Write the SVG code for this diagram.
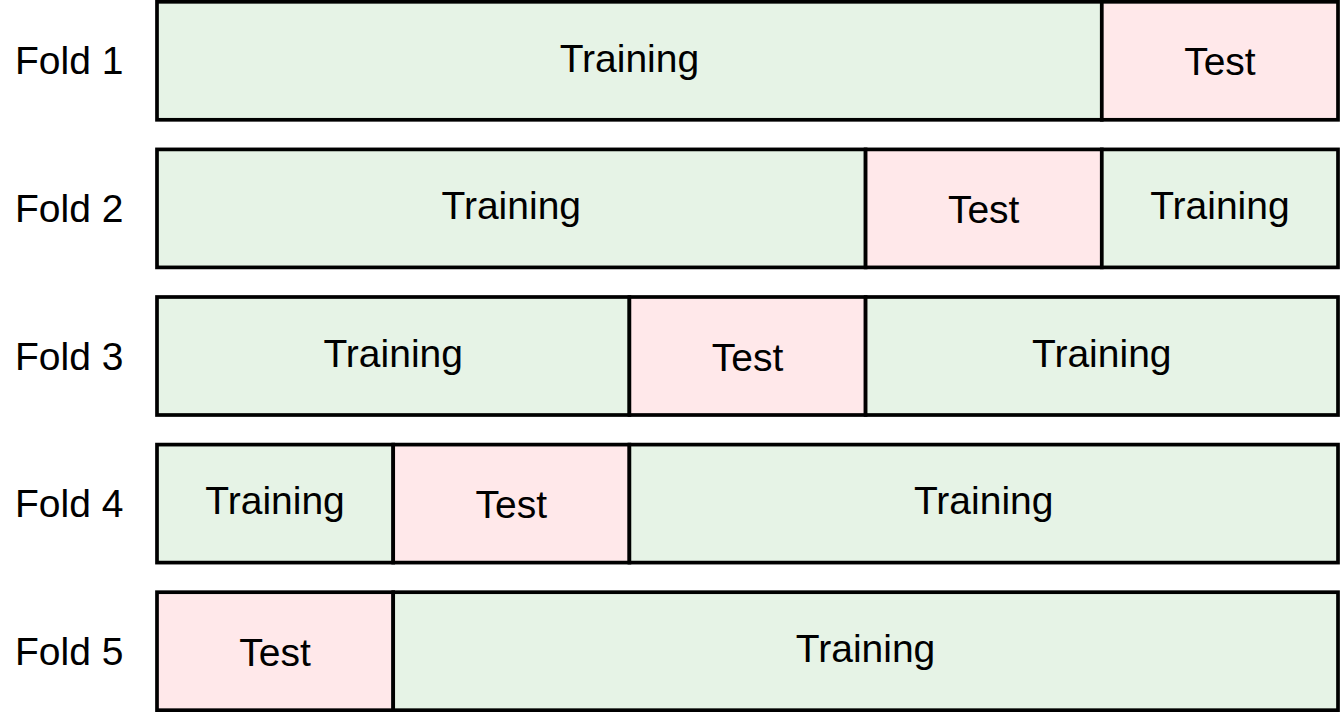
<svg xmlns="http://www.w3.org/2000/svg" width="1340" height="712" viewBox="0 0 1340 712">
<style>
.tr{fill:#e6f3e6;stroke:#000;stroke-width:3.7}
.te{fill:#ffe8ea;stroke:#000;stroke-width:3.7}
text{font-family:"Liberation Sans",Arial,sans-serif;font-size:39px;fill:#000}
.c{text-anchor:middle}
</style>
<rect width="1340" height="712" fill="#fff"/>
<g id="fold1">
<rect class="tr" x="157" y="1.8" width="944.8" height="118"/>
<rect class="te" x="1101.8" y="1.8" width="236.2" height="118"/>
<text x="15" y="74.3">Fold 1</text>
<text class="c" x="629.4" y="71.5">Training</text>
<text class="c" x="1219.9" y="75.3">Test</text>
</g>
<g id="fold2">
<rect class="tr" x="157" y="149.4" width="708.6" height="118"/>
<rect class="te" x="865.6" y="149.4" width="236.2" height="118"/>
<rect class="tr" x="1101.8" y="149.4" width="236.2" height="118"/>
<text x="15" y="221.9">Fold 2</text>
<text class="c" x="511.3" y="219.1">Training</text>
<text class="c" x="983.7" y="222.9">Test</text>
<text class="c" x="1219.9" y="219.1">Training</text>
</g>
<g id="fold3">
<rect class="tr" x="157" y="297" width="472.4" height="118"/>
<rect class="te" x="629.4" y="297" width="236.2" height="118"/>
<rect class="tr" x="865.6" y="297" width="472.4" height="118"/>
<text x="15" y="369.5">Fold 3</text>
<text class="c" x="393.2" y="366.7">Training</text>
<text class="c" x="747.5" y="370.5">Test</text>
<text class="c" x="1101.8" y="366.7">Training</text>
</g>
<g id="fold4">
<rect class="tr" x="157" y="444.6" width="236.2" height="118"/>
<rect class="te" x="393.2" y="444.6" width="236.2" height="118"/>
<rect class="tr" x="629.4" y="444.6" width="708.6" height="118"/>
<text x="15" y="517.1">Fold 4</text>
<text class="c" x="275.1" y="514.3">Training</text>
<text class="c" x="511.3" y="518.1">Test</text>
<text class="c" x="983.7" y="514.3">Training</text>
</g>
<g id="fold5">
<rect class="te" x="157" y="592.2" width="236.2" height="118"/>
<rect class="tr" x="393.2" y="592.2" width="944.8" height="118"/>
<text x="15" y="664.7">Fold 5</text>
<text class="c" x="275.1" y="665.7">Test</text>
<text class="c" x="865.6" y="661.9">Training</text>
</g>
<g id="connectors"></g>
</svg>
